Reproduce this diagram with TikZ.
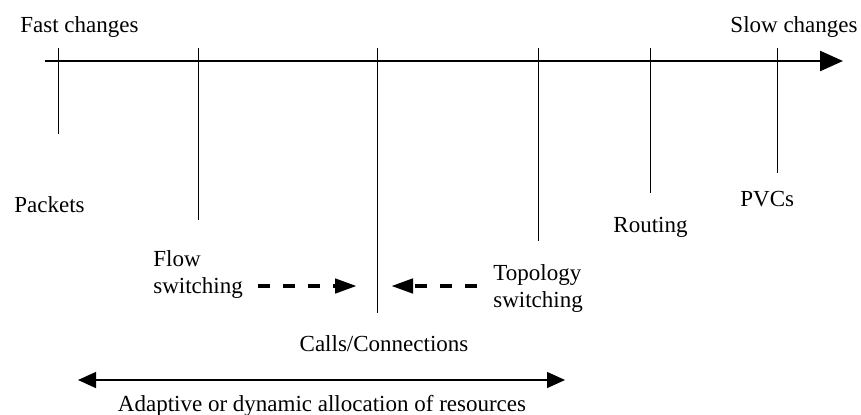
\documentclass[tikz,border=0pt]{standalone}
\usepackage{fontspec}
\setmainfont{Liberation Serif}
\usetikzlibrary{arrows.meta}

\begin{document}
\begin{tikzpicture}[x=0.5pt,y=-0.5pt,
        lbl/.style={inner sep=0pt,font=\fontsize{11.5}{13.5}\selectfont},
        axis/.style={line width=1.25pt,-{Triangle[length=11.5pt,width=10pt]}},
        tick/.style={line width=0.5pt},
        push/.style={line width=2.25pt,dash pattern=on 6pt off 6.5pt,
            -{Triangle[length=11pt,width=7pt]}},
        span/.style={line width=0.65pt,{Triangle[length=9pt,width=8pt]}-{Triangle[length=9pt,width=8pt]}}]
\useasboundingbox (0,0) rectangle (861,414);

% time scale
\coordinate (axisL) at (45,61);
\coordinate (axisR) at (843,61);
\draw[axis] (axisL) -- (axisR);
\node[lbl,anchor=base west] (fast) at (20,32) {Fast changes};
\node[lbl,anchor=base east] (slow) at (858,32) {Slow changes};

% ticks
\foreach \x/\y in {58/134,198/220,377/313,538/241,650/193,777/173}
    \draw[tick] (\x,48) -- (\x,\y);

\node[lbl,anchor=base west] (packets) at (14,212) {Packets};
\node[lbl,anchor=north west,align=left] (flow) at (153,250) {Flow\\switching};
\node[lbl,anchor=north west,align=left] (topo) at (493,264) {Topology\\switching};
\node[lbl,anchor=base west] (routing) at (613,232) {Routing};
\node[lbl,anchor=base west] (pvcs) at (740,206) {PVCs};
\node[lbl,anchor=base] (calls) at (384,351) {Calls/Connections};

% pushing towards calls
\coordinate (flowR) at (258,286);
\coordinate (callsL) at (357,286);
\coordinate (topoL) at (477,286);
\coordinate (callsR) at (391,286);
\draw[push] (flowR) -- (callsL);
\draw[push] (topoL) -- (callsR);

% adaptive range
\coordinate (spanL) at (78,380);
\coordinate (spanR) at (565,380);
\draw[span] (spanL) -- (spanR);
\node[lbl,anchor=base] (adaptive) at (322,411) {Adaptive or dynamic allocation of resources};

\end{tikzpicture}
\end{document}
